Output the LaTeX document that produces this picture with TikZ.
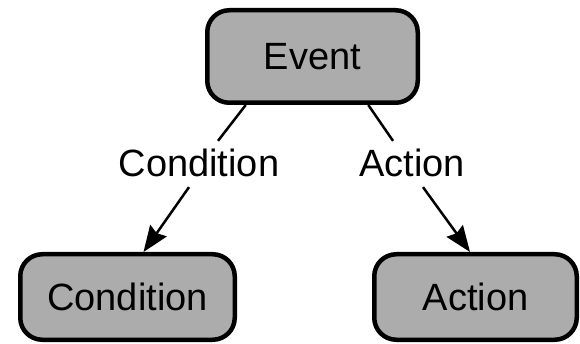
\documentclass[tikz,border=0pt]{standalone}
\usepackage{fontspec}
\setmainfont{Liberation Sans}
\usetikzlibrary{arrows.meta}

\begin{document}
\begin{tikzpicture}[
		x=1pt, y=-1pt,
		every node/.style={inner sep=4pt, font=\fontsize{38}{42}\selectfont},
		box/.style={rectangle, draw, line width=4.5pt, rounded corners=22pt, fill=gray!65, minimum height=85.5pt},
		conn/.style={line width=2.5pt},
		arr/.style={line width=2.5pt, -{Stealth[length=26pt, width=20pt, inset=3pt]}}
	]
  \useasboundingbox (0,0) rectangle (580,344);
  \node (event) [box, minimum width=210.5pt, minimum height=92.5pt] at (312.5,56.5) {Event};
  \node (cond) [box, minimum width=214.5pt] at (127.5,297) {Condition};
  \node (act) [box, minimum width=202.5pt] at (475.5,297) {Action};
  \node (cond_lbl) at (199,163) {Condition};
  \node (act_lbl) at (412,163) {Action};
  \draw [conn] (event.216) -- ([xshift=19pt, yshift=4pt]cond_lbl.north);
  \draw [conn] (event.319) -- ([xshift=-19pt, yshift=4pt]act_lbl.north);
  \draw [arr] ([xshift=-10pt, yshift=-6pt]cond_lbl.south) -- ([xshift=16pt]cond.north);
  \draw [arr] ([xshift=11pt, yshift=-6pt]act_lbl.south) -- ([xshift=-5.5pt]act.north);
\end{tikzpicture}
\end{document}
